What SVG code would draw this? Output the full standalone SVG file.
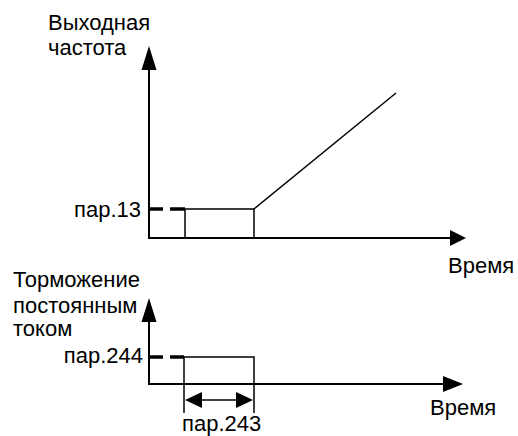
<svg xmlns="http://www.w3.org/2000/svg" width="518" height="436" viewBox="0 0 518 436">
<style>
text{font-family:"Liberation Sans",Arial,sans-serif;font-size:22px;fill:#000}
.ax{stroke:#000;stroke-width:2;fill:none}
.ln{stroke:#000;stroke-width:1.5;fill:none}
.da{stroke:#000;stroke-width:3.5;fill:none}
.hd{fill:#000}
</style>
<rect width="518" height="436" fill="#fff"/>
<g id="top-chart">
<text x="48" y="30">Выходная</text>
<text x="48" y="55">частота</text>
<polyline class="ax" points="149,68 149,238 452,238"/>
<polygon class="hd" points="149,46 141.5,70 156.5,70"/>
<polygon class="hd" points="466,238 450,230 450,246"/>
<text x="448" y="273">Время</text>
<text x="141" y="217" text-anchor="end">пар.13</text>
<line class="da" x1="150" y1="209" x2="163" y2="209"/>
<line class="da" x1="170" y1="209" x2="185" y2="209"/>
<polyline class="ln" points="185,238 185,209 254,209 254,238"/>
<line class="ln" x1="254" y1="209" x2="396" y2="93"/>
</g>
<g id="bottom-chart">
<text x="13" y="287">Торможение</text>
<text x="13" y="313">постоянным</text>
<text x="13" y="336">током</text>
<polyline class="ax" points="149,320 149,384 445,384"/>
<polygon class="hd" points="149,298 141.5,322 156.5,322"/>
<polygon class="hd" points="463,384 443,376 443,392"/>
<text x="430" y="415">Время</text>
<text x="143" y="363" text-anchor="end">пар.244</text>
<line class="da" x1="150" y1="357" x2="163" y2="357"/>
<line class="da" x1="170" y1="357" x2="184" y2="357"/>
<polyline class="ln" points="184,413 184,357 254,357 254,413"/>
</g>
<g id="connectors">
<line class="ln" x1="198" y1="400" x2="240" y2="400"/>
<polygon class="hd" points="185,400 202,392 202,408"/>
<polygon class="hd" points="253,400 236,392 236,408"/>
<text x="182" y="431">пар.243</text>
</g>
</svg>
